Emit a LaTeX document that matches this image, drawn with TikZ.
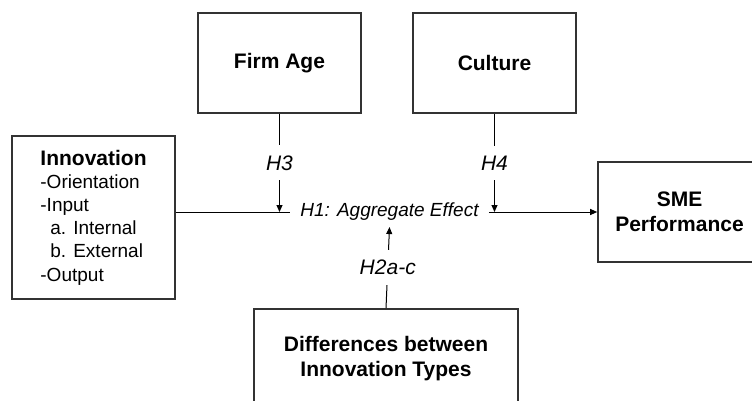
\documentclass[tikz,border=0pt]{standalone}
\usepackage{fontspec}
\setmainfont{Liberation Sans}
\usetikzlibrary{arrows.meta, positioning}
\definecolor{boxgray}{RGB}{51, 51, 51}
\tikzset{
  factor/.style={draw=boxgray, line width=1.6pt, fill=white, inner sep=0pt, minimum width=163pt, minimum height=100pt, align=center, font=\fontsize{21}{25}\selectfont\bfseries},
  hyp/.style={fill=white, inner xsep=3pt, inner ysep=10pt, font=\fontsize{21}{24}\selectfont\itshape},
  link/.style={line width=1pt, -{Triangle[length=7pt, width=6pt]}}
}

\begin{document}
\begin{tikzpicture}[x=1pt, y=-1pt]
  \useasboundingbox (0,0) rectangle (752,401);
  \clip (0,0) rectangle (752,401);

  \node[factor, minimum height=163pt, align=left, font=\fontsize{19}{23.2}\selectfont] (innov) at (93.5,217.5) {%
    {\fontsize{21}{23.2}\selectfont\bfseries Innovation}\\
    -Orientation\\
    -Input\\
    \hspace*{10pt}a. Internal\\
    \hspace*{10pt}b. External\\
    -Output};
  \node[factor] (firm) at (279.5,63) {Firm Age};
  \node[factor] (culture) at (494.5,63) {Culture};
  \node[factor] (sme) at (679.5,212) {SME\\Performance};
  \node[factor, minimum width=264pt] (diff) at (386,359) {Differences between\\Innovation Types};

  \node[hyp, font=\fontsize{19}{22}\selectfont\itshape, inner xsep=10pt, inner ysep=6pt] (h1) at (389.5,212) {H1: Aggregate Effect};

  \draw[line width=1pt] (innov.east |- h1) -- (h1.west);
  \draw[link] (h1.east) -- (sme.west);
  \draw[link] (firm.south) -- node[hyp] {H3} (firm.south |- h1.west);
  \draw[link] (culture.south) -- node[hyp] {H4} (culture.south |- h1.east);
  \draw[link] (diff.north) -- node[hyp] {H2a-c} (h1.south);
\end{tikzpicture}
\end{document}
